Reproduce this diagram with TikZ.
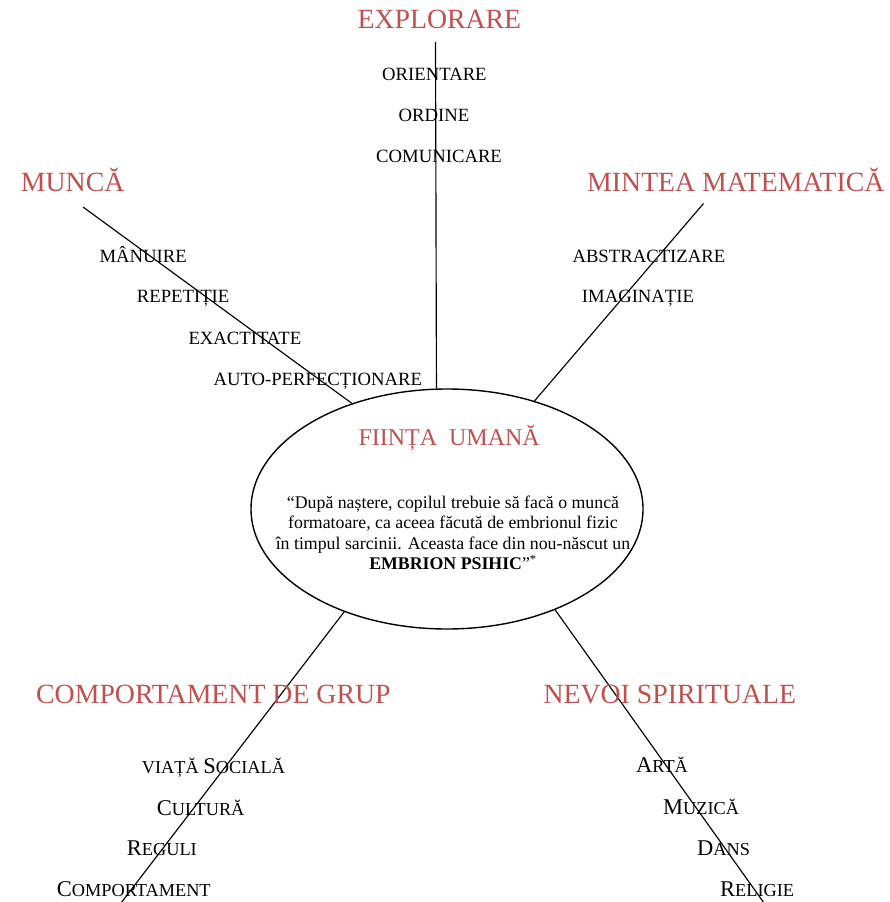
\documentclass[tikz,border=0pt]{standalone}
\usepackage{fontspec}
\setmainfont{Liberation Serif}
\usetikzlibrary{shapes.geometric}
\definecolor{headred}{RGB}{192,80,77}
\newcommand{\bigc}[1]{{\fontsize{22.5}{27}\selectfont #1}}
\newcommand{\smc}[1]{{\fontsize{18.3}{21}\selectfont #1}}
\begin{document}
\begin{tikzpicture}[x=1pt,y=-1pt,
  head/.style={anchor=base west,inner sep=0,text=headred,font=\fontsize{27.8}{33}\selectfont},
  item/.style={anchor=base west,inner sep=0,font=\fontsize{18.7}{22}\selectfont},
  scitem/.style={anchor=base west,inner sep=0},
  spoke/.style={line width=1.15pt,line cap=butt}]
\useasboundingbox (0,0) rectangle (890,902);
% central ellipse
\node[ellipse,draw,line width=1.4pt,fill=white,minimum width=392pt,minimum height=240pt,inner sep=0] (e) at (447,509) {};
% outer ends of spokes
\coordinate (tExp) at (435.5,42);
\coordinate (tMun) at (83,207);
\coordinate (tMin) at (703.5,203.5);
\coordinate (tCom) at (121,903);
\coordinate (tNev) at (764,903);
\draw[spoke] (tExp) -- (e.95.7);
\draw[spoke] (tMun) -- (e.132.4);
\draw[spoke] (tMin) -- (e.51.1);
\draw[spoke] (tCom) -- (e.225);
\draw[spoke] (tNev) -- (e.-43.6);
% ellipse texts
\node[anchor=base west,inner sep=0,text=headred,font=\fontsize{24}{28}\selectfont] (fiinta) at (358.3,445) {FIINȚA\ \ UMANĂ};
\node[anchor=north,inner sep=0,align=center,font=\fontsize{17.8}{20.4}\selectfont] (quote) at (453,495.5)
 {“După naștere, copilul trebuie să facă o muncă\\
  formatoare, ca aceea făcută de embrionul fizic\\
  în timpul sarcinii. Aceasta face din nou-născut un\\
  \textbf{EMBRION PSIHIC}”\textsuperscript{*}};
% headings
\node[head] (hExp) at (357.3,28.3) {EXPLORARE};
\node[head] (hMun) at (20.7,191.7) {MUNCĂ};
\node[head] (hMin) at (587,191.7) {MINTEA MATEMATICĂ};
\node[head] (hCom) at (36,703.3) {COMPORTAMENT DE GRUP};
\node[head] (hNev) at (543.3,703.3) {NEVOI SPIRITUALE};
% explorare items
\node[item] (i1) at (382,80) {ORIENTARE};
\node[item] (i2) at (398.5,121) {ORDINE};
\node[item] (i3) at (376,162) {COMUNICARE};
% munca items
\node[item] (m1) at (99.3,262) {MÂNUIRE};
\node[item] (m2) at (136.7,302.7) {REPETIȚIE};
\node[item] (m3) at (188.3,344) {EXACTITATE};
\node[item] (m4) at (213.3,385) {AUTO-PERFECȚIONARE};
% mintea items
\node[item] (n1) at (572.3,262) {ABSTRACTIZARE};
\node[item] (n2) at (581.7,302.7) {IMAGINAȚIE};
% comportament items
\node[scitem] (c1) at (141.7,773.3) {\smc{VIAȚĂ }\bigc{S}\smc{OCIALĂ}};
\node[scitem] (c2) at (156.7,815) {\bigc{C}\smc{ULTURĂ}};
\node[scitem] (c3) at (126.7,855) {\bigc{R}\smc{EGULI}};
\node[scitem] (c4) at (56.7,896) {\bigc{C}\smc{OMPORTAMENT}};
% nevoi items
\node[scitem] (s1) at (636,772.7) {\bigc{A}\smc{RTĂ}};
\node[scitem] (s2) at (663,814) {\bigc{M}\smc{UZICĂ}};
\node[scitem] (s3) at (697,855) {\bigc{D}\smc{ANS}};
\node[scitem] (s4) at (720,896) {\bigc{R}\smc{ELIGIE}};
\end{tikzpicture}
\end{document}
